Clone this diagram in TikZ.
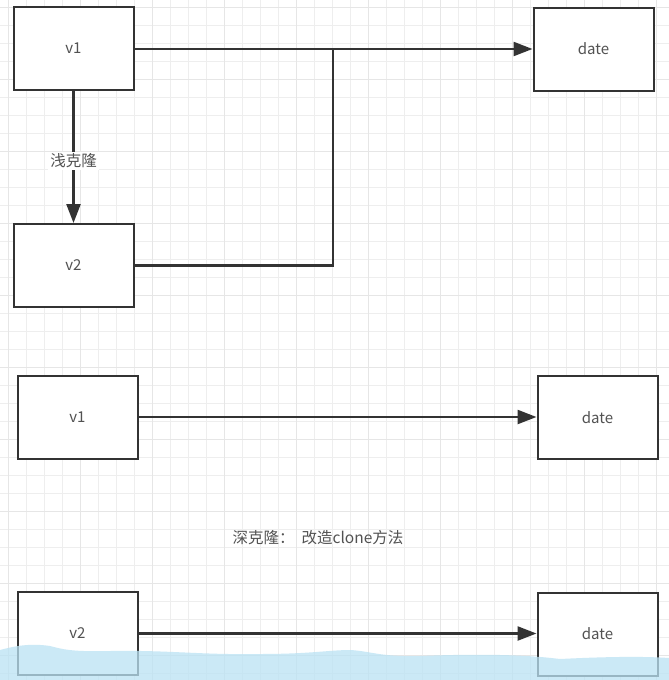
\documentclass[tikz,border=0pt]{standalone}
\usepackage{fontspec}
\newfontfamily\cjk{Noto Sans CJK SC}
\usepackage{tikz}
\usetikzlibrary{
  arrows.meta,
  positioning
}
\definecolor{ink}{RGB}{51,51,51}
\definecolor{gridline}{RGB}{238,238,238}
\definecolor{gridmajor}{RGB}{230,230,230}
\definecolor{water}{RGB}{186,226,244}

\begin{document}
\begin{tikzpicture}[
  x=1pt,y=-1pt,
  box/.style={rectangle,draw=ink,line width=2pt,fill=white,minimum width=120pt,minimum height=83pt,inner sep=0pt,font=\cjk\fontsize{15}{18}\selectfont,text=ink!85},
  link/.style={draw=ink,line width=2.4pt},
  arrow/.style={link,-{Triangle[length=19pt,width=14pt]}},
  note/.style={font=\cjk\fontsize{15.5}{18}\selectfont,text=ink!85},
]
\useasboundingbox (0,0) rectangle (669,680);
\fill[white] (0,0) rectangle (669,680);
% grid
\foreach \gx in {8,26,...,668} \draw[gridline,line width=0.8pt] (\gx,0) -- (\gx,680);
\foreach \gy in {7,25,...,680} \draw[gridline,line width=0.8pt] (0,\gy) -- (669,\gy);
\foreach \gx in {8,80,...,668} \draw[gridmajor,line width=1pt] (\gx,0) -- (\gx,680);
\foreach \gy in {7,79,...,680} \draw[gridmajor,line width=1pt] (0,\gy) -- (669,\gy);

% shallow clone
\node[box] (v1a) at (73.5,48.5) {v1};
\node[box,below=132pt of v1a] (v2a) {v2};
\node[box] (datea) at (593.5,49) {date};
\coordinate (join) at (333,49);

\draw[arrow] (v1a.east |- join) -- (datea.west |- join);
\draw[link] (v2a.east) -| (join);
\draw[arrow] (v1a) -- node[note,fill=white,inner sep=2pt,pos=0.53]{浅克隆} (v2a);

% deep clone
\node[box] (v1b) at (77.5,417) {v1};
\node[box] (dateb) at (597.5,417.5) {date};
\draw[arrow] (v1b) -- (dateb.west |- v1b);

\node[note] (deep) at (318,538) {深克隆：\ \ 改造clone方法};

\node[box] (v2c) at (77.5,633.5) {v2};
\node[box] (datec) at (597.5,634) {date};
\draw[arrow] (v2c) -- (datec.west |- v2c);

% water band at the bottom
\fill[water,opacity=0.75] (0,650) .. controls (15,646) and (30,643) .. (50,646)
  .. controls (62,649) and (70,652) .. (110,651)
  .. controls (170,650) and (200,655) .. (260,654)
  .. controls (310,654) and (330,650) .. (350,650)
  .. controls (370,651) and (380,657) .. (420,656)
  .. controls (470,654) and (520,654) .. (560,659)
  .. controls (600,657) and (640,656) .. (669,658)
  -- (669,680) -- (0,680) -- cycle;
\end{tikzpicture}
\end{document}
